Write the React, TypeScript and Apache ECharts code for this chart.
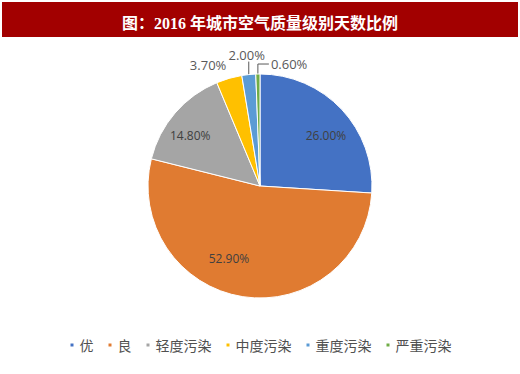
import React, { useEffect, useRef } from "react";
import * as echarts from "echarts";

const titleText = "图：2016 年城市空气质量级别天数比例";
const categories = ["优", "良", "轻度污染", "中度污染", "重度污染", "严重污染"];
const values = [26.0, 52.9, 14.8, 3.7, 2.0, 0.6];
const colors = ["#4472C4", "#E07B31", "#A5A5A5", "#FFC000", "#5B9BD5", "#70AD47"];
const insideCount = 3;

export default function App() {
  const ref = useRef<HTMLDivElement>(null);
  useEffect(() => {
    if (!ref.current) return;
    const chart = echarts.init(ref.current, undefined, { renderer: "svg" });
    const insideShift = [[23, -10], [-22, 14], [-25, -12]];
    const data = categories.map((name, i) => {
      const inside = i < insideCount;
      return {
        name,
        value: values[i],
        itemStyle: { color: colors[i] },
        label: inside
          ? { position: "inside", color: "#404040", fontSize: 12 }
          : { position: "outside", color: "#595959", fontSize: 13 },
        labelLine: { show: !inside && i !== 3, lineStyle: { color: "#595959", width: 1 } },
      };
    });
    chart.setOption({
      animation: false,
      backgroundColor: "#ffffff",
      graphic: [
        {
          type: "rect",
          left: 2,
          top: 2,
          shape: { width: 516, height: 35 },
          style: { fill: "#A20000" },
          z: 0,
        },
      ],
      title: {
        text: titleText,
        left: "center",
        top: 10,
        textStyle: {
          color: "#ffffff",
          fontSize: 16,
          fontWeight: "bold",
          fontFamily: "'Liberation Serif', 'Noto Sans CJK SC'",
        },
        z: 10,
      },
      legend: {
        bottom: 17,
        left: "center",
        itemWidth: 5,
        itemHeight: 5,
        itemGap: 13,
        icon: "rect",
        data: categories,
        textStyle: { color: "#505050", fontSize: 14, fontFamily: "'Noto Sans CJK SC'" },
      },
      series: [
        {
          type: "pie",
          center: [260, 186],
          radius: 112,
          startAngle: 90,
          clockwise: true,
          avoidLabelOverlap: false,
          itemStyle: { borderColor: "#ffffff", borderWidth: 1 },
          label: {
            show: true,
            formatter: (p: any) => p.value.toFixed(2) + "%",
            fontFamily: "'Open Sans', 'Noto Sans'",
          },
          labelLayout: (params: any) => {
            const i = params.dataIndex;
            if (i < insideCount) {
              return { dx: insideShift[i][0], dy: insideShift[i][1] };
            }
            const pts = params.labelLinePoints;
            if (!pts) return {};
            const p0 = pts[0];
            if (i === 3) {
              return { x: p0[0] - 21, y: p0[1] - 13, align: "center", verticalAlign: "middle" };
            }
            if (i === 4) {
              return {
                x: p0[0] - 2,
                y: p0[1] - 20,
                align: "center",
                verticalAlign: "middle",
                labelLinePoints: [[p0[0], p0[1]], [p0[0], p0[1] - 13], [p0[0], p0[1] - 13]],
              };
            }
            return {
              x: p0[0] + 13,
              y: p0[1] - 10,
              align: "left",
              verticalAlign: "middle",
              labelLinePoints: [[p0[0], p0[1]], [p0[0], p0[1] - 10], [p0[0] + 11, p0[1] - 10]],
            };
          },
          data,
        },
      ],
    });
    return () => chart.dispose();
  }, []);
  return (
    <div
      ref={ref}
      style={{ position: "fixed", left: 0, top: 0, width: 520, height: 374, background: "#fff" }}
    />
  );
}
